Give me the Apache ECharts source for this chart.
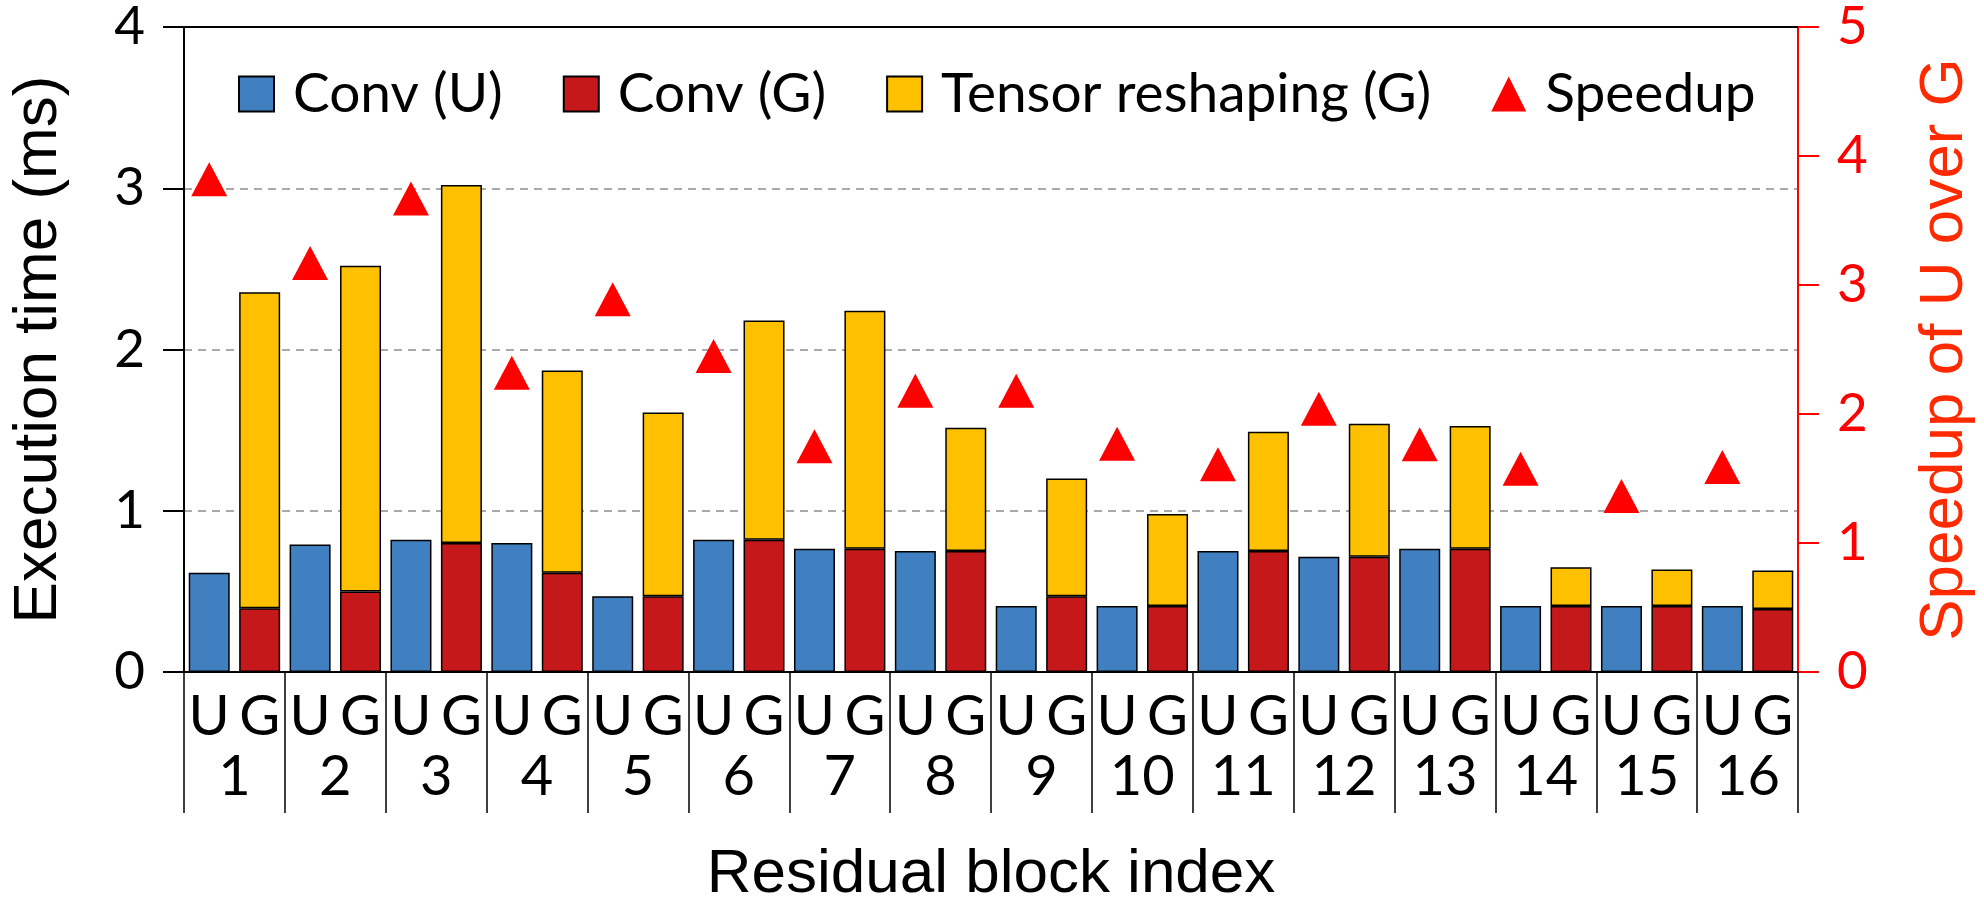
<!DOCTYPE html>
<html>
<head>
<meta charset="utf-8">
<title>Residual block execution time</title>
<script src="https://cdn.jsdelivr.net/npm/echarts@6/dist/echarts.min.js"></script>
<style>
  html, body { margin: 0; padding: 0; background: #fff; }
  #chart { width: 1984px; height: 911px; }
</style>
</head>
<body>
<div id="chart"></div>
<script>
// residual block index 1..16
var blocks = ['1', '2', '3', '4', '5', '6', '7', '8', '9', '10', '11', '12', '13', '14', '15', '16'];
// execution time (ms)
var convU = [0.615, 0.79, 0.82, 0.80, 0.47, 0.82, 0.765, 0.75, 0.41, 0.41, 0.75, 0.715, 0.765, 0.41, 0.41, 0.41];
var convG = [0.395, 0.50, 0.80, 0.615, 0.47, 0.82, 0.765, 0.75, 0.47, 0.41, 0.75, 0.715, 0.765, 0.41, 0.41, 0.39];
var reshapeG = [1.96, 2.02, 2.22, 1.255, 1.14, 1.36, 1.475, 0.765, 0.73, 0.57, 0.74, 0.825, 0.76, 0.24, 0.225, 0.24];
// speedup of U over G
var speedup = [3.82, 3.17, 3.67, 2.32, 2.89, 2.45, 1.75, 2.18, 2.18, 1.77, 1.61, 2.04, 1.765, 1.575, 1.365, 1.59];

// each block gets two slots on the lower axis: U then G
var slots = [], uData = [], gConvData = [], gReshapeData = [], speedData = [];
blocks.forEach(function (b, i) {
  slots.push('U', 'G');
  uData.push(convU[i], '-');
  gConvData.push('-', convG[i]);
  gReshapeData.push('-', reshapeG[i]);
  speedData.push(speedup[i], '-');
});

var tickFont = 'Lato';
var titleFont = '"Liberation Sans", Arial, sans-serif';

var chart = echarts.init(document.getElementById('chart'));
chart.setOption({
  backgroundColor: '#fff',
  animation: false,
  legend: {
    left: 233,
    top: 61,
    itemWidth: 35,
    itemHeight: 35,
    itemGap: 60,
    textStyle: {
      fontFamily: tickFont,
      fontSize: 55,
      color: '#000',
      lineHeight: 56,
      padding: [0, 0, 0, 14]
    },
    data: [
      { name: 'Conv (U)', icon: 'rect' },
      { name: 'Conv (G)', icon: 'rect' },
      { name: 'Tensor reshaping (G)', icon: 'rect' },
      { name: 'Speedup', icon: 'triangle' }
    ]
  },
  grid: {
    left: 161,
    right: 151,
    top: 27,
    bottom: 229,
    containLabel: false
  },
  xAxis: [
    {
      // U / G row
      type: 'category',
      data: slots,
      position: 'bottom',
      axisLine: { lineStyle: { color: '#000', width: 2 } },
      axisTick: { show: false },
      axisLabel: {
        interval: 0,
        fontFamily: tickFont,
        fontSize: 56,
        lineHeight: 56,
        color: '#000',
        margin: 17
      }
    },
    {
      // block number row with separators
      type: 'category',
      data: blocks,
      position: 'bottom',
      axisLine: { show: false },
      axisTick: {
        show: true,
        interval: 0,
        length: 141,
        lineStyle: { color: '#000', width: 1.5 }
      },
      axisLabel: {
        interval: 0,
        fontFamily: tickFont,
        fontSize: 56,
        lineHeight: 56,
        color: '#000',
        margin: 77
      },
      name: 'Residual block index',
      nameLocation: 'middle',
      nameGap: 172,
      nameTextStyle: {
        fontFamily: titleFont,
        fontSize: 62,
        color: '#000'
      }
    },
    {
      // top border
      type: 'category',
      data: blocks,
      position: 'top',
      axisLine: { lineStyle: { color: '#000', width: 2 } },
      axisTick: { show: false },
      axisLabel: { show: false }
    }
  ],
  yAxis: [
    {
      type: 'value',
      min: 0,
      max: 4,
      interval: 1,
      position: 'left',
      axisLine: { show: true, lineStyle: { color: '#000', width: 2 } },
      axisTick: { show: true, length: 21, lineStyle: { color: '#000', width: 2 } },
      axisLabel: {
        fontFamily: tickFont,
        fontSize: 53,
        color: '#000',
        margin: 39
      },
      splitLine: {
        show: true,
        lineStyle: { color: '#aaaaaa', width: 2, type: [8, 6] }
      },
      name: 'Execution time (ms)',
      nameLocation: 'middle',
      nameRotate: 90,
      nameGap: 114,
      nameTextStyle: {
        fontFamily: titleFont,
        fontSize: 62,
        color: '#000'
      }
    },
    {
      type: 'value',
      min: 0,
      max: 5,
      interval: 1,
      position: 'right',
      axisLine: { show: true, lineStyle: { color: '#ff0000', width: 2 } },
      axisTick: { show: true, length: 21, lineStyle: { color: '#ff0000', width: 2 } },
      axisLabel: {
        fontFamily: tickFont,
        fontSize: 53,
        color: '#ff0000',
        margin: 39
      },
      splitLine: { show: false },
      name: 'Speedup of U over G',
      nameLocation: 'middle',
      nameRotate: 90,
      nameGap: 116,
      nameTextStyle: {
        fontFamily: titleFont,
        fontSize: 62,
        color: '#ff2a00'
      }
    }
  ],
  series: [
    {
      name: 'Conv (U)',
      type: 'bar',
      stack: 'exec',
      xAxisIndex: 0,
      yAxisIndex: 0,
      barWidth: 41,
      data: uData,
      itemStyle: { color: '#4080c0', borderColor: '#000', borderWidth: 1.5 }
    },
    {
      name: 'Conv (G)',
      type: 'bar',
      stack: 'exec',
      xAxisIndex: 0,
      yAxisIndex: 0,
      barWidth: 41,
      data: gConvData,
      itemStyle: { color: '#c4181b', borderColor: '#000', borderWidth: 1.5 }
    },
    {
      name: 'Tensor reshaping (G)',
      type: 'bar',
      stack: 'exec',
      xAxisIndex: 0,
      yAxisIndex: 0,
      barWidth: 41,
      data: gReshapeData,
      itemStyle: { color: '#ffc000', borderColor: '#000', borderWidth: 1.5 }
    },
    {
      name: 'Speedup',
      type: 'scatter',
      xAxisIndex: 0,
      yAxisIndex: 1,
      symbol: 'triangle',
      symbolSize: [36, 34],
      data: speedData,
      itemStyle: { color: '#ff0000', opacity: 1 }
    }
  ]
});
window.onresize = chart.resize;
</script>
</body>
</html>
